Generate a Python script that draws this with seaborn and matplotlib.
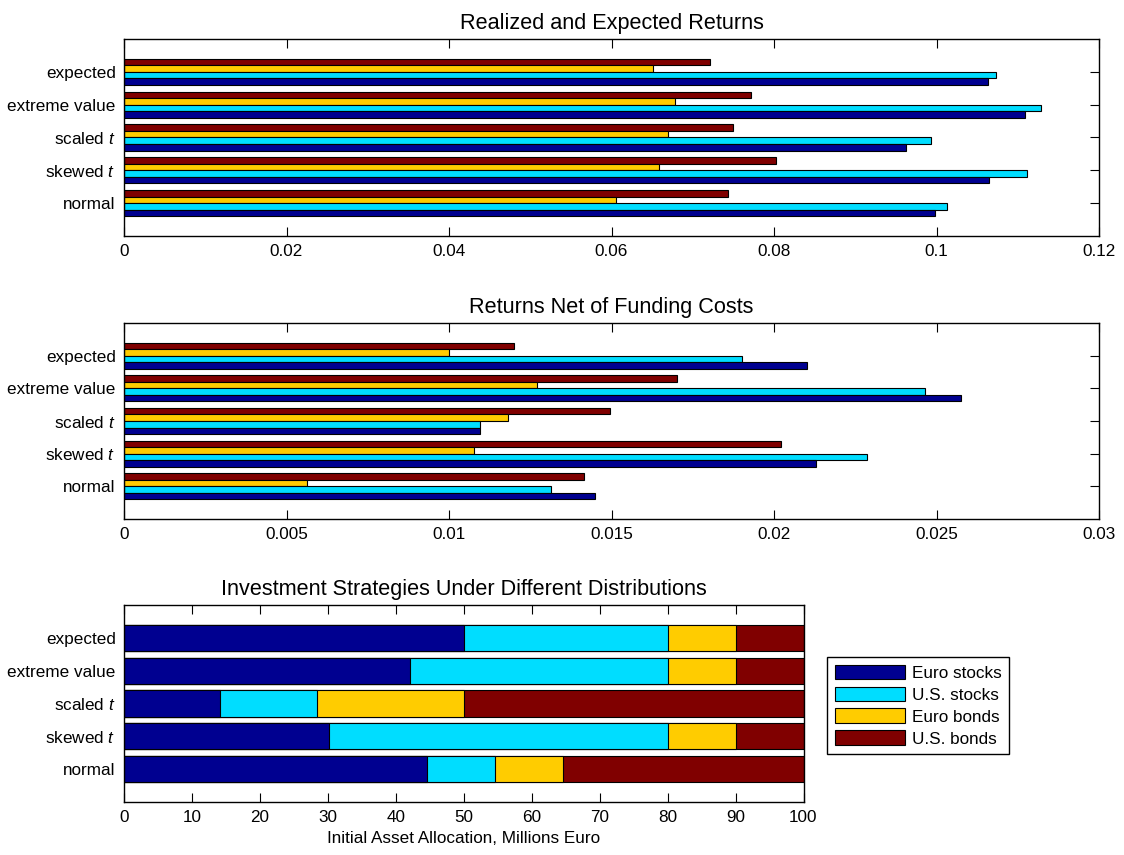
import matplotlib
matplotlib.use("Agg")
import matplotlib.pyplot as plt
import numpy as np
import pandas as pd
import seaborn as sns

# ---- data -----------------------------------------------------------------
distributions = ["normal", "skewed $t$", "scaled $t$", "extreme value", "expected"]
assets = ["Euro stocks", "U.S. stocks", "Euro bonds", "U.S. bonds"]
asset_colors = ["#000090", "#00DDFF", "#FFCC00", "#800000"]

# realized / expected returns per distribution (rows follow `distributions`)
euro_stocks_ret = [0.0998, 0.1065, 0.0962, 0.1109, 0.1063]
us_stocks_ret = [0.1013, 0.1111, 0.0993, 0.1128, 0.1073]
euro_bonds_ret = [0.0606, 0.0658, 0.0669, 0.0678, 0.0651]
us_bonds_ret = [0.0743, 0.0803, 0.0750, 0.0772, 0.0721]

# returns net of funding costs
euro_stocks_net = [0.01450, 0.02130, 0.01095, 0.02574, 0.02100]
us_stocks_net = [0.01313, 0.02286, 0.01095, 0.02464, 0.01900]
euro_bonds_net = [0.00562, 0.01078, 0.01180, 0.01270, 0.01000]
us_bonds_net = [0.01415, 0.02020, 0.01495, 0.01700, 0.01200]

# initial allocation, millions of euro
euro_stocks_alloc = [44.6, 30.1, 14.2, 42.1, 50.0]
us_stocks_alloc = [10.0, 49.9, 14.2, 37.9, 30.0]
euro_bonds_alloc = [10.0, 10.0, 21.6, 10.0, 10.0]
us_bonds_alloc = [35.4, 10.0, 50.0, 10.0, 10.0]

returns_xticks = [0, 0.02, 0.04, 0.06, 0.08, 0.1, 0.12]
net_xticks = [0, 0.005, 0.01, 0.015, 0.02, 0.025, 0.03]
alloc_xticks = list(range(0, 101, 10))

# ---- style ----------------------------------------------------------------
sns.set_style("white")
plt.rcParams["font.family"] = ["Liberation Sans", "DejaVu Sans"]
plt.rcParams["mathtext.fontset"] = "custom"
plt.rcParams["mathtext.it"] = "Liberation Sans:italic"
plt.rcParams["mathtext.rm"] = "Liberation Sans"
plt.rcParams["font.size"] = 12.3
plt.rcParams["text.color"] = "black"
plt.rcParams["axes.labelcolor"] = "black"
plt.rcParams["axes.titlecolor"] = "black"

LABEL_FS = 12.3
TITLE_FS = 15.6

W, H = 1124, 855
fig = plt.figure(figsize=(W / 100, H / 100), dpi=100)


def axes_px(left, top, right, bottom):
    return fig.add_axes([left / W, (H - bottom) / H, (right - left) / W, (bottom - top) / H])


top_order = distributions[::-1]          # seaborn puts the first category at the top
hue_order = assets[::-1]                 # first hue level drawn uppermost within a group
palette = dict(zip(assets, asset_colors))


def long_frame(cols):
    rows = []
    for asset, vals in zip(assets, cols):
        for d, v in zip(distributions, vals):
            rows.append({"distribution": d, "asset": asset, "value": v})
    return pd.DataFrame(rows)


def style_axes(ax, xticks, xlim):
    ax.set_xlim(*xlim)
    ax.set_xticks(xticks)
    ax.set_xticklabels([("%g" % t) for t in xticks])
    ax.set_ylim(len(distributions), -1)
    ax.set_yticks(range(len(distributions)))
    ax.set_yticklabels(top_order)
    ax.set_xlabel("")
    ax.set_ylabel("")
    ax.tick_params(direction="in", length=6.5, width=0.8, top=True, right=True,
                   bottom=True, left=True, labelsize=LABEL_FS, colors="black", pad=6)
    for s in ax.spines.values():
        s.set_visible(True)
        s.set_color("black")
        s.set_linewidth(1.0)


def grouped(ax, cols, xticks, title):
    df = long_frame(cols)
    sns.barplot(data=df, y="distribution", x="value", hue="asset", order=top_order,
                hue_order=hue_order, palette=palette, orient="h", width=0.8,
                edgecolor="black", linewidth=0.8, errorbar=None, ax=ax,
                legend=False, saturation=1)
    style_axes(ax, xticks, (xticks[0], xticks[-1]))
    ax.set_title(title, fontsize=TITLE_FS, pad=7, color="black")


ax1 = axes_px(124, 39, 1099, 236)
grouped(ax1, [euro_stocks_ret, us_stocks_ret, euro_bonds_ret, us_bonds_ret],
        returns_xticks, "Realized and Expected Returns")

ax2 = axes_px(124, 323, 1099, 519)
grouped(ax2, [euro_stocks_net, us_stocks_net, euro_bonds_net, us_bonds_net],
        net_xticks, "Returns Net of Funding Costs")

# stacked allocation: draw cumulative totals from the widest layer down
ax3 = axes_px(124, 605, 803.5, 802)
alloc = np.array([euro_stocks_alloc, us_stocks_alloc, euro_bonds_alloc, us_bonds_alloc])
cum = np.cumsum(alloc, axis=0)
for i in range(len(assets) - 1, -1, -1):
    frame = pd.DataFrame({"distribution": distributions, "value": cum[i]})
    sns.barplot(data=frame, y="distribution", x="value", order=top_order, orient="h",
                color=asset_colors[i], saturation=1, width=0.8, edgecolor="black",
                linewidth=0.8, errorbar=None, ax=ax3, label=assets[i])
style_axes(ax3, alloc_xticks, (0, 100))
ax3.set_title("Investment Strategies Under Different Distributions", fontsize=TITLE_FS,
              pad=7, color="black")
ax3.set_xlabel("Initial Asset Allocation, Millions Euro", fontsize=LABEL_FS, labelpad=4,
               color="black")

handles, labels = ax3.get_legend_handles_labels()
lookup = dict(zip(labels, handles))
if ax3.get_legend() is not None:
    ax3.get_legend().remove()
leg = fig.legend([lookup[a] for a in assets], assets, loc="upper left",
                 bbox_to_anchor=(827 / W, (H - 657) / H), frameon=True, fancybox=False,
                 edgecolor="black", framealpha=1, fontsize=LABEL_FS, handlelength=4.1,
                 handleheight=0.95, labelspacing=0.33, handletextpad=0.4,
                 borderpad=0.45, borderaxespad=0)
leg.get_frame().set_linewidth(1.0)
for t in leg.get_texts():
    t.set_color("black")

fig.savefig("out.png", dpi=100)
